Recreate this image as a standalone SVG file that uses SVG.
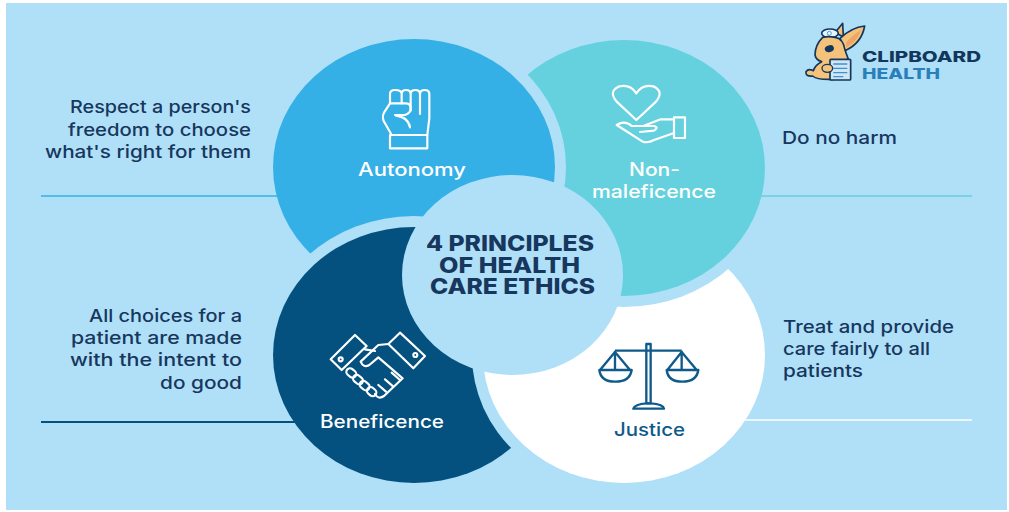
<svg xmlns="http://www.w3.org/2000/svg" width="1009" height="512" viewBox="0 0 1009 512">
<style>
text{font-family:Inter,"Liberation Sans",sans-serif}
.d{font-size:17.5px;font-weight:500;fill:#17375e}
.l{font-size:18px;font-weight:500;fill:#fff}
.c{font-size:21px;font-weight:800;fill:#17375e}
.h{fill:#b0e0f8}
.i{fill:none;stroke:#fff;stroke-width:6.500;stroke-linejoin:round;stroke-linecap:round}
.r{stroke:#12365c;stroke-width:5;stroke-linejoin:round;stroke-linecap:round;fill:#f5c27c}
</style>
<defs>
<clipPath id="lower-left"><rect x="430" y="345" width="170" height="167"/></clipPath>
<ellipse id="justice-halo" cx="624" cy="355" rx="152" ry="139"/>
<ellipse id="justice-disc" cx="624" cy="355" rx="141" ry="128"/>
</defs>
<rect width="1009" height="512" fill="#fff"/>
<rect x="6" y="3" width="1001" height="507" class="h"/>
<g id="justice">
<use href="#justice-disc" fill="#fff"/>
</g>
<g id="non-maleficence">
<ellipse cx="624" cy="168" rx="152" ry="139" class="h"/>
<ellipse cx="624" cy="168" rx="141" ry="128" fill="#66d1de"/>
</g>
<g id="autonomy">
<ellipse cx="414" cy="167" rx="152" ry="139" class="h"/>
<ellipse cx="414" cy="167" rx="141" ry="128" fill="#35b0e6"/>
</g>
<g id="beneficence">
<ellipse cx="414" cy="355" rx="152" ry="139" class="h"/>
<ellipse cx="414" cy="355" rx="141" ry="128" fill="#04517f"/>
</g>
<g id="justice-overlap" clip-path="url(#lower-left)">
<use href="#justice-halo" class="h"/>
<use href="#justice-disc" fill="#fff"/>
</g>
<g id="center">
<ellipse cx="512.500" cy="275" rx="110.500" ry="100" class="h"/>
<text class="c" x="426" y="251" textLength="168" lengthAdjust="spacingAndGlyphs">4 PRINCIPLES</text>
<text class="c" x="439" y="273" textLength="141" lengthAdjust="spacingAndGlyphs">OF HEALTH</text>
<text class="c" x="430" y="294" textLength="165" lengthAdjust="spacingAndGlyphs">CARE ETHICS</text>
</g>
<g id="connectors" fill="none" stroke-width="1.500">
<path d="M41 196H279" stroke="#35b0e6"/>
<path d="M760 196H972" stroke="#66d1de"/>
<path d="M41 422H296" stroke="#04517f" stroke-width="2"/>
<path d="M745 420H972" stroke="#fff"/>
</g>
<g id="autonomy-content">
<g transform="translate(340 70) scale(.3333)" class="i">
<path d="M150 100V72Q150 60 165 60Q185 60 185 72V100M185 72Q185 60 198 60Q212 60 212 72V122M212 72Q212 60 226 60Q240 60 240 72V132M240 72Q240 60 254 60Q268 60 268 72V145L262 195"/>
<path d="M212 115Q212 100 198 100H150L132 128Q124 145 135 160L155 195M165 135H195Q212 130 212 115M168 137Q205 142 210 172"/>
<rect x="150" y="195" width="112" height="40"/>
</g>
<text class="l" x="358" y="176" textLength="108" lengthAdjust="spacingAndGlyphs">Autonomy</text>
</g>
<g id="non-maleficence-content">
<g transform="translate(590 70) scale(.3333)" class="i">
<path d="M139 150L80 95Q55 65 85 50Q120 40 139 70Q158 40 193 50Q222 65 198 95Z"/>
<rect x="252" y="142" width="33" height="62"/>
<path d="M250 148H212L160 168H125Q105 150 80 165L158 215Q175 220 192 210L250 190M160 168H192Q208 172 192 182L150 186"/>
</g>
<text class="l" x="629" y="176" textLength="51" lengthAdjust="spacingAndGlyphs">Non-</text>
<text class="l" x="592" y="198" textLength="124" lengthAdjust="spacingAndGlyphs">maleficence</text>
</g>
<g id="beneficence-content">
<g transform="translate(310 320) scale(.3333)" class="i">
<path d="M135 45L170 78L95 150L62 118Z"/>
<path d="M270 38L345 108L310 145L235 72Z"/>
<circle cx="92" cy="118" r="6"/>
<circle cx="316" cy="105" r="6"/>
<path d="M235 72L205 75L152 125Q160 145 178 135L205 112L278 175L222 228Q205 240 195 222"/>
<path d="M165 88L195 93M225 178L250 200M205 195L228 215M245 158L270 180"/>
<rect x="108" y="148" width="32" height="22" rx="11" transform="rotate(40 124 159)"/>
<rect x="128" y="168" width="32" height="22" rx="11" transform="rotate(40 144 179)"/>
<rect x="148" y="186" width="32" height="22" rx="11" transform="rotate(40 164 197)"/>
<rect x="170" y="204" width="30" height="22" rx="11" transform="rotate(40 185 215)"/>
</g>
<text class="l" x="320" y="428" textLength="124" lengthAdjust="spacingAndGlyphs">Beneficence</text>
</g>
<g id="justice-content">
<g transform="translate(580 330) scale(.3333)" fill="none" stroke="#0f5a8a" stroke-width="7" stroke-linejoin="round">
<rect x="199" y="42" width="13" height="178"/>
<path d="M105 62H305"/>
<path d="M105 62V120M60 120L105 66L150 120M58 120H155Q150 155 106 155Q62 155 58 120Z"/>
<path d="M305 62V120M262 120L305 66L350 120M260 120H355Q350 155 307 155Q264 155 260 120Z"/>
<path d="M160 236Q165 222 199 220H212Q250 222 252 236Z"/>
</g>
<text class="l" style="fill:#0f5a8a" x="614" y="436" textLength="71" lengthAdjust="spacingAndGlyphs">Justice</text>
</g>
<g id="autonomy-text">
<text class="d" x="70" y="113" textLength="181" lengthAdjust="spacingAndGlyphs">Respect a person's</text>
<text class="d" x="68" y="136" textLength="183" lengthAdjust="spacingAndGlyphs">freedom to choose</text>
<text class="d" x="45" y="158" textLength="206" lengthAdjust="spacingAndGlyphs">what's right for them</text>
</g>
<g id="non-maleficence-text">
<text class="d" x="782" y="144" textLength="115" lengthAdjust="spacingAndGlyphs">Do no harm</text>
</g>
<g id="beneficence-text">
<text class="d" x="89" y="322" textLength="153" lengthAdjust="spacingAndGlyphs">All choices for a</text>
<text class="d" x="71" y="344" textLength="171" lengthAdjust="spacingAndGlyphs">patient are made</text>
<text class="d" x="70" y="366" textLength="172" lengthAdjust="spacingAndGlyphs">with the intent to</text>
<text class="d" x="160" y="389" textLength="82" lengthAdjust="spacingAndGlyphs">do good</text>
</g>
<g id="justice-text">
<text class="d" x="783" y="333" textLength="171" lengthAdjust="spacingAndGlyphs">Treat and provide</text>
<text class="d" x="783" y="355" textLength="147" lengthAdjust="spacingAndGlyphs">care fairly to all</text>
<text class="d" x="783" y="377" textLength="80" lengthAdjust="spacingAndGlyphs">patients</text>
</g>
<g id="logo">
<g transform="translate(780 0) scale(.3333)">
<path class="r" d="M165 98L188 70L190 110Z"/>
<path class="r" d="M180 115Q215 82 254 78Q245 130 195 152Z"/>
<path d="M200 125Q225 100 243 90Q235 122 198 143Z" fill="#eda765"/>
<ellipse cx="150" cy="100" rx="25" ry="13" fill="#e8f4fb" stroke="#12365c" stroke-width="5"/>
<circle cx="148" cy="100" r="6" fill="none" stroke="#4a9fd8" stroke-width="3"/>
<path class="r" d="M128 112Q105 135 105 165Q108 180 125 185Q105 195 100 212Q85 205 78 215Q75 230 98 228Q110 240 160 238V185L205 178L195 150Q190 115 165 112Q145 108 128 112Z"/>
<ellipse cx="148" cy="146" rx="14" ry="10" fill="#12365c" transform="rotate(-15 148 146)"/>
<rect x="150" y="178" width="62" height="62" rx="3" fill="#cfe6f5" stroke="#12365c" stroke-width="5"/>
<path d="M160 192H202M160 205H202M160 218H202M160 230H190" stroke="#3f93d0" stroke-width="4"/>
<ellipse cx="142" cy="205" rx="16" ry="12" fill="#f5c27c" stroke="#12365c" stroke-width="4"/>
</g>
<text x="862" y="62" font-size="14.500" font-weight="800" fill="#12365c" textLength="119" lengthAdjust="spacingAndGlyphs">CLIPBOARD</text>
<text x="862" y="79" font-size="14.500" font-weight="800" fill="#2a7fb8" textLength="78" lengthAdjust="spacingAndGlyphs">HEALTH</text>
</g>
</svg>
